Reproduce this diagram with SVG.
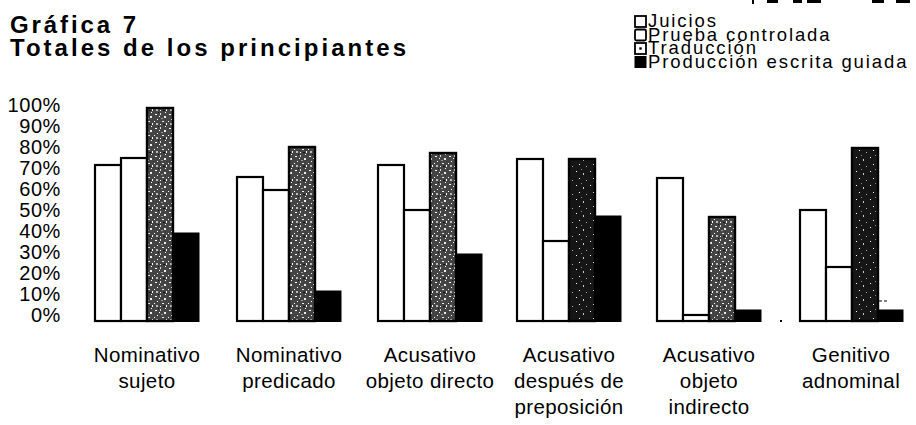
<svg xmlns="http://www.w3.org/2000/svg" width="916" height="425" viewBox="0 0 916 425">
<style>
.t{font-family:"Liberation Sans",Arial,sans-serif;fill:#000}
.title{font-size:24px;font-weight:bold}
.leg{font-size:18.5px;letter-spacing:1.9px}
.ax{font-size:20px;text-anchor:end;letter-spacing:0.6px}
.cat{font-size:20.5px;text-anchor:middle;letter-spacing:0.4px}
.w{fill:#fff;stroke:#000;stroke-width:2.2}
.k{fill:#000;stroke:#000;stroke-width:1}
.tl{fill:url(#spL);stroke:#000;stroke-width:2.4}
.td{fill:url(#spD);stroke:#000;stroke-width:2.4}
.sq{fill:#fff;stroke:#000;stroke-width:1.8}
</style>
<defs>
<pattern id="spL" width="14" height="14" patternUnits="userSpaceOnUse">
<rect width="14" height="14" fill="#444"/>
<rect x="1" y="2" width="2" height="1" fill="#fff"/>
<rect x="6" y="1" width="1" height="2" fill="#ddd"/>
<rect x="10" y="4" width="2" height="2" fill="#eee"/>
<rect x="3" y="7" width="1" height="1" fill="#fff"/>
<rect x="8" y="9" width="2" height="1" fill="#eee"/>
<rect x="12" y="11" width="1" height="2" fill="#fff"/>
<rect x="2" y="11" width="2" height="2" fill="#bbb"/>
<rect x="5" y="4" width="1" height="1" fill="#fff"/>
<rect x="11" y="0" width="1" height="1" fill="#fff"/>
<rect x="0" y="9" width="1" height="1" fill="#fff"/>
<rect x="6" y="12" width="1" height="1" fill="#fff"/>
<rect x="7" y="6" width="2" height="1" fill="#999"/>
<rect x="4" y="0" width="1" height="1" fill="#111"/>
<rect x="9" y="12" width="2" height="1" fill="#111"/>
</pattern>
<pattern id="spD" width="14" height="14" patternUnits="userSpaceOnUse">
<rect width="14" height="14" fill="#161616"/>
<rect x="2" y="3" width="1" height="1" fill="#fff"/>
<rect x="9" y="5" width="1" height="2" fill="#ccc"/>
<rect x="5" y="10" width="1" height="1" fill="#fff"/>
<rect x="12" y="12" width="1" height="1" fill="#aaa"/>
<rect x="7" y="1" width="1" height="1" fill="#888"/>
</pattern>
</defs>

<g id="page-fragments" fill="#000">
<rect x="752" y="0" width="2" height="4"/>
<rect x="767" y="0" width="11" height="3"/>
<rect x="793" y="0" width="9" height="3"/>
<rect x="807" y="0" width="14" height="3"/>
<rect x="872" y="0" width="12" height="3"/>
<rect x="896" y="0" width="14" height="3"/>
</g>

<g id="title">
<text class="t title" x="10" y="33" textLength="126" lengthAdjust="spacing">Gráfica 7</text>
<text class="t title" x="10" y="56" textLength="396" lengthAdjust="spacing">Totales de los principiantes</text>
</g>

<g id="legend">
<rect class="sq" x="635" y="16" width="11" height="11"/>
<text class="t leg" x="648" y="27">Juicios</text>
<rect class="sq" x="635" y="29.5" width="11" height="11" rx="1.5"/>
<text class="t leg" x="648" y="40.5">Prueba controlada</text>
<rect class="sq" x="635" y="43" width="11" height="11"/>
<rect x="639.3" y="47.3" width="2.4" height="2.4" fill="#000"/>
<text class="t leg" x="648" y="54">Traducción</text>
<rect x="634.5" y="56" width="12" height="12" fill="#000"/>
<text class="t leg" x="648" y="67.5">Producción escrita guiada</text>
</g>

<g id="y-axis">
<text class="t ax" x="61" y="112">100%</text>
<text class="t ax" x="61" y="133">90%</text>
<text class="t ax" x="61" y="154">80%</text>
<text class="t ax" x="61" y="175">70%</text>
<text class="t ax" x="61" y="196">60%</text>
<text class="t ax" x="61" y="217">50%</text>
<text class="t ax" x="61" y="238">40%</text>
<text class="t ax" x="61" y="259">30%</text>
<text class="t ax" x="61" y="280">20%</text>
<text class="t ax" x="61" y="301">10%</text>
<text class="t ax" x="61" y="322">0%</text>
</g>

<g id="g1">
<rect class="w" x="95" y="165" width="26" height="156"/>
<rect class="w" x="121" y="158" width="26" height="163"/>
<rect class="tl" x="147" y="108" width="26" height="213"/>
<rect class="k" x="173" y="233" width="26" height="88.5"/>
<text class="t cat" x="147" y="362">Nominativo</text>
<text class="t cat" x="147" y="388">sujeto</text>
</g>

<g id="g2">
<rect class="w" x="237" y="177" width="26" height="144"/>
<rect class="w" x="263" y="190" width="26" height="131"/>
<rect class="tl" x="289" y="147" width="26" height="174"/>
<rect class="k" x="315" y="291" width="26" height="30.5"/>
<text class="t cat" x="289" y="362">Nominativo</text>
<text class="t cat" x="289" y="388">predicado</text>
</g>

<g id="g3">
<rect class="w" x="378" y="165" width="26" height="156"/>
<rect class="w" x="404" y="210" width="26" height="111"/>
<rect class="tl" x="430" y="153" width="26" height="168"/>
<rect class="k" x="456" y="254" width="26" height="67.5"/>
<text class="t cat" x="430" y="362">Acusativo</text>
<text class="t cat" x="430" y="388">objeto directo</text>
</g>

<g id="g4">
<rect class="w" x="517" y="159" width="26" height="162"/>
<rect class="w" x="543" y="241" width="26" height="80"/>
<rect class="td" x="569" y="159" width="26" height="162"/>
<rect class="k" x="595" y="216" width="26" height="105.5"/>
<text class="t cat" x="569" y="362">Acusativo</text>
<text class="t cat" x="569" y="388">después de</text>
<text class="t cat" x="569" y="414">preposición</text>
</g>

<g id="g5">
<rect class="w" x="657" y="178" width="26" height="143"/>
<rect class="w" x="683" y="315" width="26" height="6"/>
<rect class="tl" x="709" y="217" width="26" height="104"/>
<rect class="k" x="735" y="310" width="26" height="11.5"/>
<rect x="780" y="320" width="2" height="2" fill="#000"/>
<text class="t cat" x="709" y="362">Acusativo</text>
<text class="t cat" x="709" y="388">objeto</text>
<text class="t cat" x="709" y="414">indirecto</text>
</g>

<g id="g6">
<rect class="w" x="800" y="210" width="26" height="111"/>
<rect class="w" x="826" y="267" width="26" height="54"/>
<rect class="td" x="852" y="148" width="26" height="173"/>
<rect class="k" x="878" y="310" width="25" height="11.5"/>
<line x1="879" y1="301" x2="888" y2="301" stroke="#000" stroke-width="1" stroke-dasharray="3 2"/>
<text class="t cat" x="851" y="362">Genitivo</text>
<text class="t cat" x="851" y="388">adnominal</text>
</g>
</svg>
